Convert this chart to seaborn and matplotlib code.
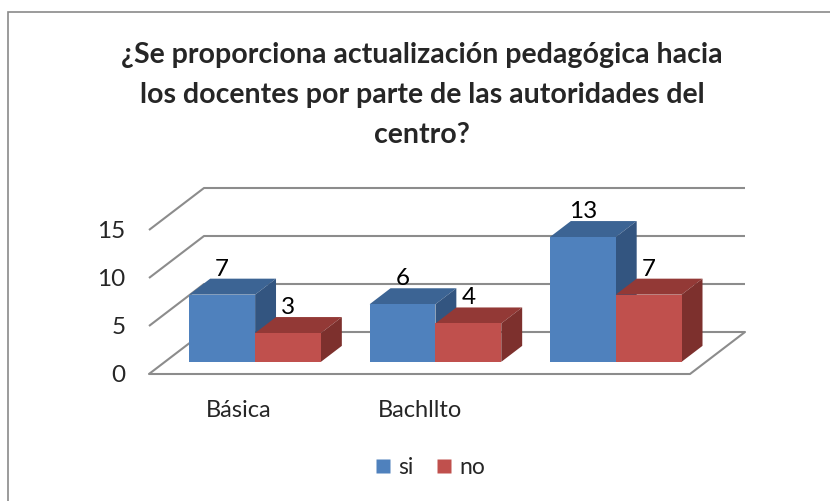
import matplotlib

matplotlib.use("Agg")
import matplotlib.pyplot as plt
import pandas as pd
import seaborn as sns
from matplotlib.lines import Line2D
from matplotlib.patches import Polygon, Rectangle

# Data
niveles = ["Básica", "Bachllto", ""]
si_valores = [7, 6, 13]
no_valores = [3, 4, 7]
series = ["si", "no"]
y_ticks = [0, 5, 10, 15]

TITLE = (
    "¿Se proporciona actualización pedagógica hacia\n"
    "los docentes por parte de las autoridades del\n"
    "centro?"
)

# Colours (front, top, side) per series
COLORS = {
    "si": ("#4F81BD", "#3C6494", "#335580"),
    "no": ("#C0504D", "#933936", "#7D302D"),
}
GRID = "#8C8C8C"

# Pseudo 3D geometry in data units (depth 0 = front plane, 1 = back wall)
DX = 0.305
DY = 4.375
BAR_D0 = 0.29
BAR_D1 = 0.67

sns.set_style("white")
plt.rcParams["font.family"] = ["Lato", "DejaVu Sans"]

df = pd.DataFrame(
    {
        "nivel": niveles * 2,
        "valor": si_valores + no_valores,
        "respuesta": ["si"] * len(niveles) + ["no"] * len(niveles),
    }
)

fig = plt.figure(figsize=(8.3, 5.01), dpi=100)
ax = fig.add_axes([149 / 830, 127 / 501, 541 / 830, 144 / 501])

sns.barplot(
    data=df,
    x="nivel",
    y="valor",
    hue="respuesta",
    hue_order=series,
    palette={s: COLORS[s][0] for s in series},
    width=0.73,
    ax=ax,
    legend=False,
    errorbar=None,
    saturation=1,
)
ax.set_xlim(-0.5, len(niveles) - 0.5)
ax.set_ylim(0, 15)


def at_depth(x, y, d):
    return (x + DX * d, y + DY * d)


# Walls and gridlines
x_left, x_right = -0.5, len(niveles) - 0.5
for v in y_ticks:
    bl = at_depth(x_left, v, 1)
    br = at_depth(x_right, v, 1)
    ax.plot([x_left, bl[0], br[0]], [v, bl[1], br[1]], color=GRID, lw=1.5,
            clip_on=False, zorder=1, solid_capstyle="butt")
# floor front and right edge
br0 = at_depth(x_right, 0, 1)
ax.plot([x_left, x_right, br0[0]], [0, 0, br0[1]], color=GRID, lw=1.5,
        clip_on=False, zorder=1)

# Move seaborn bars back into the box and add top / side faces
bars = sorted(ax.patches, key=lambda p: p.get_x())
ddx = DX * (BAR_D1 - BAR_D0)
ddy = DY * (BAR_D1 - BAR_D0)
z = 3
for p in bars:
    h = p.get_height()
    if h <= 0:
        continue
    front = p.get_facecolor()
    key = "si" if matplotlib.colors.to_hex(front).upper() == COLORS["si"][0].upper() else "no"
    x0 = p.get_x() + DX * BAR_D0
    y0 = DY * BAR_D0
    w = p.get_width()
    x1 = x0 + w
    p.set_x(x0)
    p.set_y(y0)
    p.set_clip_on(False)
    p.set_edgecolor("none")
    p.set_zorder(z + 2)
    top = Polygon([(x0, y0 + h), (x1, y0 + h), (x1 + ddx, y0 + h + ddy),
                   (x0 + ddx, y0 + h + ddy)], closed=True,
                  facecolor=COLORS[key][1], edgecolor="none", clip_on=False,
                  zorder=z)
    side = Polygon([(x1, y0), (x1, y0 + h), (x1 + ddx, y0 + h + ddy),
                    (x1 + ddx, y0 + ddy)], closed=True,
                   facecolor=COLORS[key][2], edgecolor="none", clip_on=False,
                   zorder=z + 1)
    ax.add_patch(top)
    ax.add_patch(side)
    ax.text(x0 + w / 2, y0 + h + ddy - 0.1, f"{h:g}", ha="center",
            va="bottom", fontsize=17.5, color="black", zorder=20)
    z += 3

# Axes styling
for s in ax.spines.values():
    s.set_visible(False)
ax.set_yticks(y_ticks)
ax.set_xlabel("")
ax.set_ylabel("")
ax.tick_params(axis="y", length=0, pad=17, labelsize=17.5)
ax.tick_params(axis="x", length=0, pad=19, labelsize=17)
ax.patch.set_alpha(0)

# Title
fig.text(422 / 830, 1 - 95 / 501, TITLE, ha="center", va="center",
         fontsize=20.5, fontweight="bold", linespacing=1.65)

# Legend
handles = [
    Line2D([], [], marker="s", linestyle="none", markersize=10,
           markerfacecolor=COLORS[s][0], markeredgecolor="none")
    for s in series
]
fig.legend(handles, series, loc="center", bbox_to_anchor=(430 / 830, 1 - 468 / 501),
           ncol=2, frameon=False, fontsize=16.5, handlelength=0.7,
           handletextpad=0.3, columnspacing=1.0)

# Chart area border
fig.add_artist(Rectangle((8 / 830, -0.1), 1.2, 1 - 12 / 501 + 0.1,
                         transform=fig.transFigure, fill=False,
                         edgecolor="#8A8A8A", lw=1.2))

fig.savefig("out.png", dpi=100)
